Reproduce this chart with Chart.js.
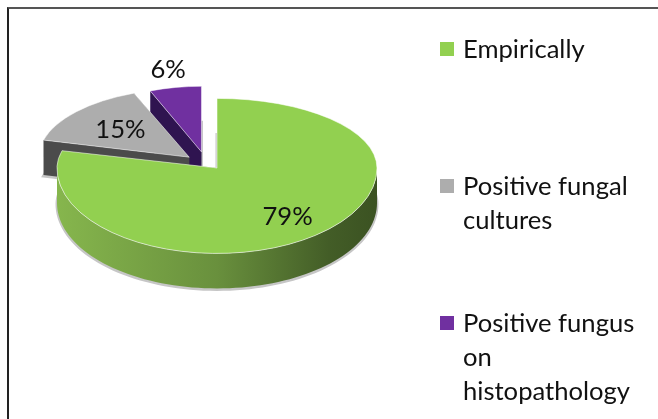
<!DOCTYPE html>
<html>
<head>
<meta charset="utf-8">
<script src="https://cdn.jsdelivr.net/npm/chart.js@4/dist/chart.umd.min.js"></script>
<style>
  html, body { margin: 0; background: #fff; }
  #wrap { position: relative; width: 658px; height: 419px; overflow: hidden; font-family: Lato, sans-serif; color: #111; }
  #frame { position: absolute; left: 7px; top: 7px; width: 900px; height: 900px; border-left: 2px solid #222; border-top: 2px solid #555; }
  canvas { position: absolute; left: 0; top: 0; }
  .item { position: absolute; left: 440px; width: 180px; padding-left: 23px; font-size: 25.6px; line-height: 34px; }
  .item i { position: absolute; left: 0; top: 11px; width: 14px; height: 14px; }
</style>
</head>
<body>
<div id="wrap">
  <div id="frame"></div>
  <canvas id="pie" width="658" height="419"></canvas>
  <div id="legend"></div>
</div>
<script>
const categories = ['Empirically', 'Positive fungal cultures', 'Positive fungus on histopathology'];
const values = [79, 15, 6];
const colors = ['#92d050', '#adadad', '#7030a0'];
const wallColors = ['#5f8537', '#4b4b4b', '#2f1450'];

// fake 3d view settings, one entry per slice
const explode = [0, 38, 40];
const nudgeX = [0, -1, -9];
const depthX = [1, 0.94, 0.87];
const squashBack = [0.435, 0.43, 0.41];
const squashFront = 0.534;
const wallHeight = 35;
const labelRadius = [0.72, 0.61, 1.28];
const legendTops = [31, 168, 305];

const chartWidth = 658;

// screen position of a point on a slice's top face
function project(arc, i, angle, r) {
  const mid = (arc.startAngle + arc.endAngle) / 2;
  const ox = arc.x + explode[i] * depthX[i] * Math.cos(mid) + nudgeX[i];
  const oy = arc.y + explode[i] * squashBack[i] * Math.sin(mid);
  const dy = Math.sin(angle) * r;
  return {
    x: ox + Math.cos(angle) * r * depthX[i],
    y: oy + dy * (dy > 0 ? squashFront : squashBack[i])
  };
}

function tracePath(ctx, arc, i, lift) {
  const p0 = project(arc, i, arc.startAngle, 0);
  ctx.beginPath();
  ctx.moveTo(p0.x, p0.y + lift);
  const steps = 120;
  for (let s = 0; s <= steps; s++) {
    const a = arc.startAngle + (arc.endAngle - arc.startAngle) * s / steps;
    const p = project(arc, i, a, arc.outerRadius);
    ctx.lineTo(p.x, p.y + lift);
  }
  ctx.closePath();
}

function drawWalls(ctx, arc, i) {
  // soft grey edge under the slice
  ctx.save();
  ctx.fillStyle = ctx.strokeStyle = '#c6c6c6';
  ctx.lineWidth = 3;
  tracePath(ctx, arc, i, wallHeight + 1);
  ctx.fill();
  ctx.stroke();
  ctx.restore();

  // flat cut faces
  ctx.fillStyle = wallColors[i];
  [arc.startAngle, arc.endAngle].forEach(a => {
    const tip = project(arc, i, a, 0);
    const rim = project(arc, i, a, arc.outerRadius);
    ctx.beginPath();
    ctx.moveTo(tip.x, tip.y);
    ctx.lineTo(rim.x, rim.y);
    ctx.lineTo(rim.x, rim.y + wallHeight);
    ctx.lineTo(tip.x, tip.y + wallHeight);
    ctx.closePath();
    ctx.fill();
  });

  // curved outer wall, only the part facing the viewer
  const from = Math.max(arc.startAngle, 0);
  const to = Math.min(arc.endAngle, Math.PI);
  if (from >= to) return;
  const right = project(arc, i, 0, arc.outerRadius).x;
  const left = project(arc, i, Math.PI, arc.outerRadius).x;
  const grad = ctx.createLinearGradient(left, 0, right, 0);
  grad.addColorStop(0, '#86b64d');
  grad.addColorStop(0.5, '#69903d');
  grad.addColorStop(0.85, '#435d27');
  grad.addColorStop(1, '#3b5222');
  ctx.fillStyle = grad;
  ctx.beginPath();
  const steps = 80;
  for (let s = 0; s <= steps; s++) {
    const p = project(arc, i, from + (to - from) * s / steps, arc.outerRadius);
    ctx.lineTo(p.x, p.y);
  }
  for (let s = steps; s >= 0; s--) {
    const p = project(arc, i, from + (to - from) * s / steps, arc.outerRadius);
    ctx.lineTo(p.x, p.y + wallHeight);
  }
  ctx.closePath();
  ctx.fill();
}

// top face, drawn by the arc element itself under a squashed transform
function drawTop(ctx, arc, i) {
  const origin = project(arc, i, 0, 0);
  const parts = [[squashBack[i], -1], [squashFront, 1]];
  parts.forEach(([squash, side]) => {
    ctx.save();
    ctx.beginPath();
    ctx.rect(0, side < 0 ? 0 : origin.y, chartWidth, side < 0 ? origin.y : 419);
    ctx.clip();
    ctx.translate(origin.x, origin.y);
    ctx.scale(depthX[i], squash);
    ctx.translate(-arc.x, -arc.y);
    arc.draw(ctx);
    ctx.restore();
  });
}

const pie3d = {
  id: 'pie3d',
  beforeDatasetsDraw(chart) {
    const ctx = chart.ctx;
    const arcs = chart.getDatasetMeta(0).data;
    // back slices first so the big one sits in front
    for (let i = arcs.length - 1; i >= 0; i--) {
      drawWalls(ctx, arcs[i], i);
      drawTop(ctx, arcs[i], i);
    }
    return false;
  },
  // returning false above skips afterDatasetsDraw, so labels go here
  afterDraw(chart) {
    const ctx = chart.ctx;
    const arcs = chart.getDatasetMeta(0).data;
    ctx.save();
    ctx.font = '25.6px Lato, sans-serif';
    ctx.fillStyle = '#111';
    ctx.textAlign = 'center';
    ctx.textBaseline = 'middle';
    arcs.forEach((arc, i) => {
      const mid = (arc.startAngle + arc.endAngle) / 2;
      const p = project(arc, i, mid, arc.outerRadius * labelRadius[i]);
      ctx.fillText(values[i] + '%', p.x, p.y);
    });
    ctx.restore();
  }
};

new Chart(document.getElementById('pie'), {
  type: 'pie',
  data: {
    labels: categories,
    datasets: [{
      data: values,
      backgroundColor: colors,
      borderColor: 'rgba(255,255,255,0.75)',
      borderWidth: 1
    }]
  },
  options: {
    responsive: false,
    animation: false,
    radius: 160,
    layout: { padding: { left: 0, top: 0, right: 224, bottom: 83 } },
    plugins: { legend: { display: false }, tooltip: { enabled: false } }
  },
  plugins: [pie3d]
});

const legend = document.getElementById('legend');
categories.forEach((name, i) => {
  const item = document.createElement('div');
  item.className = 'item';
  item.style.top = legendTops[i] + 'px';
  item.innerHTML = '<i style="background:' + colors[i] + '"></i>' + name;
  legend.appendChild(item);
});
</script>
</body>
</html>
